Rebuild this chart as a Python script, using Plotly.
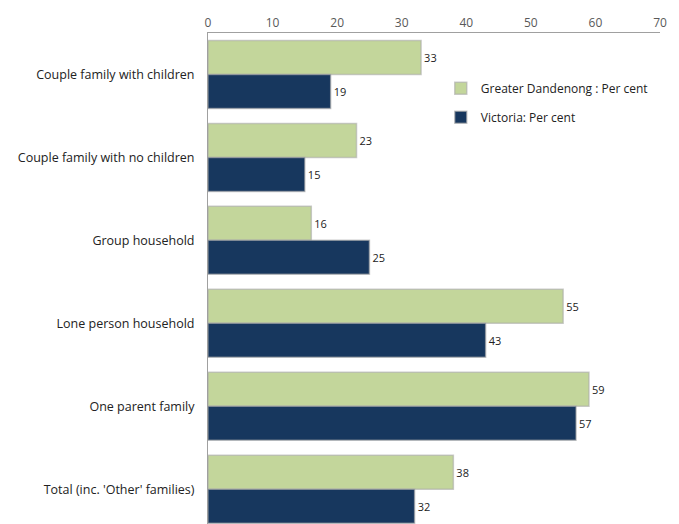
import plotly.graph_objects as go

categories = ["Couple family with children", "Couple family with no children", "Group household",
              "Lone person household", "One parent family", "Total (inc. 'Other' families)"]
dandenong = [33, 23, 16, 55, 59, 38]
victoria = [19, 15, 25, 43, 57, 32]
series_names = ["Greater Dandenong : Per cent", "Victoria: Per cent"]

fig = go.Figure()
for name, vals, col, grp in [(series_names[0], dandenong, "#C3D69B", "a"),
                             (series_names[1], victoria, "#17375E", "b")]:
    fig.add_trace(go.Bar(
        y=categories, x=vals, name=name, orientation="h",
        marker=dict(color=col, line=dict(color="rgba(170,170,170,0.6)", width=1.5)),
        text=[str(v) for v in vals], textposition="outside",
        textfont=dict(size=11, color="#222222", family="Open Sans"),
        cliponaxis=False, legendgroup=grp,
    ))

fig.update_layout(
    width=679, height=524,
    margin=dict(l=208, r=19, t=33, b=0),
    paper_bgcolor="white", plot_bgcolor="white",
    barmode="group", bargap=0.18, bargroupgap=0,
    font=dict(family="Open Sans", size=12, color="#222222"),
    showlegend=True,
    legend=dict(x=0.515, y=0.917, xanchor="left", yanchor="top",
                traceorder="grouped", tracegroupgap=10,
                font=dict(size=12, color="#222222"),
                itemwidth=30, bgcolor="rgba(0,0,0,0)"),
    xaxis=dict(side="top", range=[0, 70], dtick=10, showgrid=False, zeroline=False,
               showline=True, linecolor="#A0A0A0", linewidth=1,
               tickfont=dict(size=12, color="#595959"), ticks=""),
    yaxis=dict(range=[5.42, -0.5], showgrid=False, showline=True, linecolor="#A0A0A0",
               linewidth=1, ticks="", ticklabelstandoff=10,
               tickfont=dict(size=12.5, color="#222222")),
)
fig.write_html("out.html")
